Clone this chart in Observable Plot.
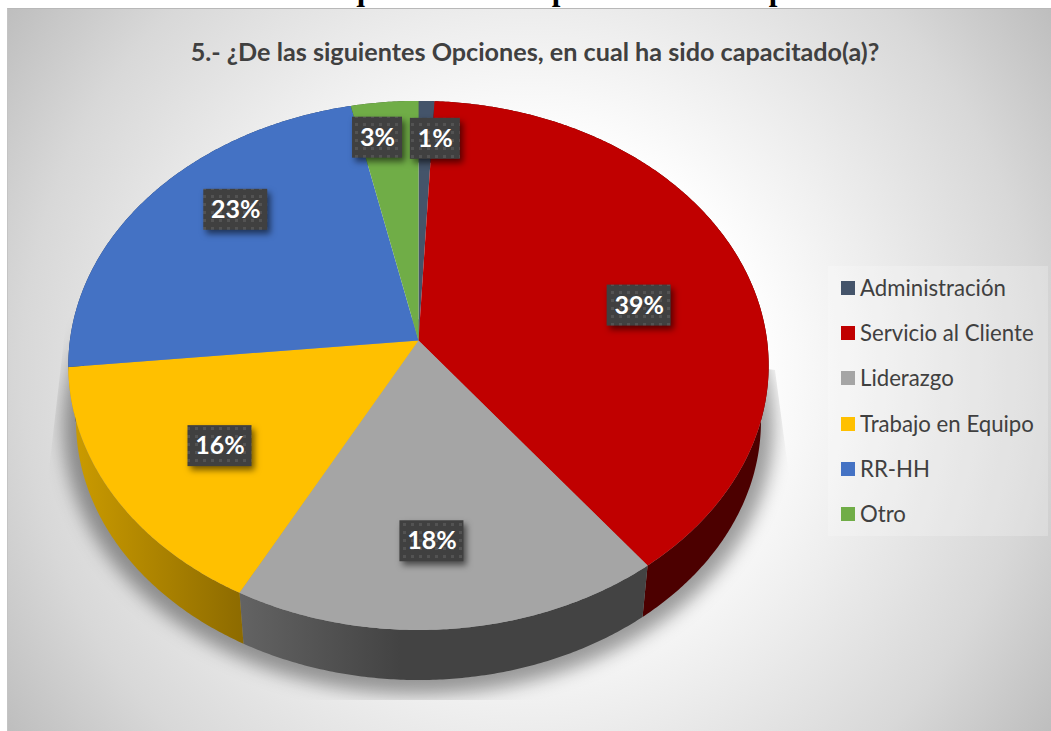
<!DOCTYPE html>
<html lang="es">
<head>
<meta charset="utf-8">
<title>Gráfico No. 18</title>
<script src="https://cdn.jsdelivr.net/npm/d3@7"></script>
<script src="https://cdn.jsdelivr.net/npm/@observablehq/plot@0.6"></script>
<style>
  html, body { margin: 0; padding: 0; background: #fff; overflow: hidden; }
  #page { position: relative; width: 1051px; height: 731px; overflow: hidden; }
  #heading { position: absolute; left: 0; width: 1083px; top: -26px; margin: 0; text-align: center; white-space: nowrap;
    font: bold 31px/32px "Liberation Serif", serif; color: #000; }
  #frame { position: absolute; left: 7px; top: 8px; right: 0; bottom: 0; box-sizing: border-box;
    border-left: 1px solid #c4c4c4; border-top: 1px solid #b8b8b8;
    background: radial-gradient(circle farthest-corner at 50% 50%, #fff 0%, #fff 35%, #eee 55%, #d8d8d8 80%, #bebebe 100%); }
  #chart { position: absolute; left: 0; top: 0; }
  #chart svg { display: block; background: transparent; }
  #subtitle { position: absolute; left: 0; width: 1070px; top: 35px; margin: 0; text-align: center; white-space: nowrap;
    font: bold 25.2px/32px Lato, sans-serif; color: #404040; }
  #legend { position: absolute; left: 828px; top: 266px; width: 220px; height: 270px; background: rgba(255,255,255,.22); }
  .item { position: absolute; left: 13px; height: 30px; display: flex; align-items: center;
    font: 22.2px/30px Lato, sans-serif; color: #404040; white-space: nowrap; }
  .item i { display: block; width: 14px; height: 14px; margin-right: 5px; }
</style>
</head>
<body>
<div id="page">
  <div id="frame"></div>
  <h1 id="heading">Gráfico No. 18: En qué han sido capacitados los empleados de UEP?</h1>
  <div id="chart"></div>
  <h2 id="subtitle">5.- ¿De las siguientes Opciones, en cual ha sido capacitado(a)?</h2>
  <div id="legend"></div>
</div>
<script>
// ---- data ----
const categories = ["Administración", "Servicio al Cliente", "Liderazgo", "Trabajo en Equipo", "RR-HH", "Otro"];
const shares = [0.008, 0.388, 0.182, 0.156, 0.232, 0.034];
const colors = ["#44546a", "#c00000", "#a5a5a5", "#ffc000", "#4472c4", "#70ad47"];
const wallColors = ["#222a35", "#4c0000", "url(#wallGray)", "url(#wallYellow)", "#223962", "#385723"];
// label placement on the disc: turn (fraction of circle) and radius (fraction of disc radius)
const labelTurn = [0.010, 0.217, 0.492, 0.652, 0.871, 0.976];
const labelRadius = [0.831, 0.655, 0.715, 0.672, 0.759, 0.844];

// ---- layout of the tilted disc ----
const W = 1051, H = 731;
const disc = {cx: 418, cy: 340, a: 348.6, b: 262.2, k: 0.0943};
const wall = {scale: 0.978, drop: 56.4};
const shadow = {scale: 1.015, drop: 60};

function project(turn, radius = 1, scale = 1, drop = 0) {
  const t = 2 * Math.PI * turn;
  const px = radius * Math.sin(t), py = -radius * Math.cos(t);
  const w = 1 - disc.k * py;
  return {x: disc.cx + scale * disc.a * px / w, y: disc.cy + drop + scale * disc.b * py / w};
}
function arc(start, end, scale, drop) {
  const n = Math.max(2, Math.ceil((end - start) * 720));
  return d3.range(n + 1).map(i => project(start + (end - start) * i / n, 1, scale, drop));
}

const ends = d3.cumsum(shares);
const starts = shares.map((_, i) => (i ? ends[i - 1] : 0));
const format = d3.format(".0%");

const topFaces = categories.map((c, i) => [project(0, 0), ...arc(starts[i], ends[i], 1, 0)]);
const sideFaces = categories.map((c, i) => [...arc(starts[i], ends[i], 1, 0), ...arc(starts[i], ends[i], wall.scale, wall.drop).reverse()]);
const shadowFace = arc(0, 1, shadow.scale, shadow.drop);

const labels = categories.map((c, i) => ({
  ...project(labelTurn[i], labelRadius[i]),
  text: format(shares[i]),
  half: shares[i] < 0.095 ? 25 : 32
}));

// wraps a mark's drawn group, to attach an svg attribute or a css style
const withGroup = apply => (index, scales, values, dimensions, context, next) => {
  const g = next(index, scales, values, dimensions, context);
  apply(g);
  return g;
};

const chart = Plot.plot({
  width: W, height: H, margin: 0,
  x: {domain: [0, W], range: [0, W], axis: null},
  y: {domain: [0, H], range: [0, H], axis: null},
  marks: [
    Plot.line(shadowFace, {x: "x", y: "y", fill: "#000", fillOpacity: 0.38, stroke: "none",
      render: withGroup(g => {
        g.setAttribute("filter", "url(#soft)");
        g.setAttribute("class", "pie-shadow");
      })}),
    ...sideFaces.map((f, i) => Plot.line(f, {x: "x", y: "y", fill: wallColors[i], stroke: "none"})),
    ...topFaces.map((f, i) => Plot.line(f, {x: "x", y: "y", fill: colors[i], stroke: "none"})),
    Plot.rect(labels, {
      x1: d => d.x - d.half, x2: d => d.x + d.half,
      y1: d => d.y - 20.5, y2: d => d.y + 20.5,
      fill: "url(#dotted)",
      render: withGroup(g => { g.style.filter = "drop-shadow(3px 4px 3px rgba(0,0,0,.55))"; })
    }),
    Plot.text(labels, {x: "x", y: "y", text: "text", fill: "#fff", fontSize: 25, fontWeight: "bold",
      fontFamily: "Lato, sans-serif"})
  ]
});

// gradients, dotted label fill, soft shadows
const svg = d3.select(chart);
const defs = svg.insert("defs", ":first-child");
const grad = (id, x1, x2, stops) => {
  const g = defs.append("linearGradient").attr("id", id).attr("gradientUnits", "userSpaceOnUse")
    .attr("x1", x1).attr("x2", x2).attr("y1", 0).attr("y2", 0);
  stops.forEach(([o, c]) => g.append("stop").attr("offset", o).attr("stop-color", c));
};
grad("wallYellow", 70, 245, [[0, "#cc9c00"], [1, "#8c6a00"]]);
grad("wallGray", 240, 400, [[0, "#636363"], [1, "#434343"]]);
const pat = defs.append("pattern").attr("id", "dotted").attr("patternUnits", "userSpaceOnUse").attr("width", 8).attr("height", 8);
pat.append("rect").attr("width", 8).attr("height", 8).attr("fill", "#404040");
pat.append("rect").attr("x", 3).attr("y", 3).attr("width", 3).attr("height", 3).attr("fill", "#535353");
const blur = defs.append("filter").attr("id", "soft").attr("x", "-10%").attr("y", "-10%").attr("width", "120%").attr("height", "120%");
blur.append("feGaussianBlur").attr("stdDeviation", 9);
const clip = defs.append("clipPath").attr("id", "shadowClip");
clip.append("polygon").attr("points", "72,270 775,370 795,520 795,700 30,700 42,530");

const shadowNode = chart.querySelector(".pie-shadow");
const outer = document.createElementNS("http://www.w3.org/2000/svg", "g");
shadowNode.parentNode.insertBefore(outer, shadowNode);
outer.setAttribute("clip-path", "url(#shadowClip)");
outer.appendChild(shadowNode);

document.getElementById("chart").appendChild(chart);

// legend
const legend = d3.select("#legend");
categories.forEach((c, i) => {
  const item = legend.append("div").attr("class", "item").style("top", `${7 + i * 45.2}px`);
  item.append("i").style("background", colors[i]);
  item.append("span").text(c);
});
</script>
</body>
</html>
